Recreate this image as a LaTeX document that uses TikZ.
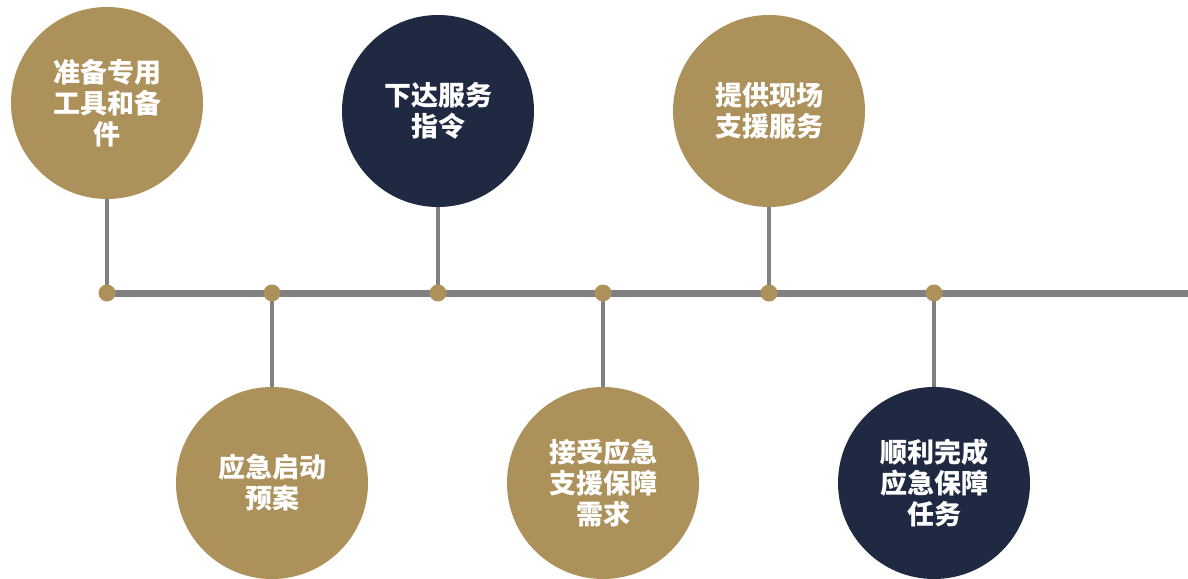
\documentclass[tikz,border=0pt]{standalone}
\usepackage{fontspec}
\newfontfamily\cjk{Noto Sans CJK SC}
\usetikzlibrary{backgrounds}
\definecolor{gold}{RGB}{173,145,91}
\definecolor{navy}{RGB}{31,41,66}
\definecolor{linegray}{RGB}{128,128,128}
\begin{document}
\begin{tikzpicture}[x=1pt,y=-1pt,
  bubble/.style={circle,minimum size=192pt,inner sep=0pt,text=white,align=center,
    font=\cjk\bfseries\fontsize{27}{31}\selectfont},
  goldbub/.style={bubble,fill=gold},
  navybub/.style={bubble,fill=navy},
  dot/.style={circle,fill=gold,minimum size=17pt,inner sep=0pt},
  axis/.style={draw=linegray,line width=7pt},
  stem/.style={draw=linegray,line width=4.5pt}]
\useasboundingbox (0,0) rectangle (1188,578);
% dots on the axis
\node[dot] (d1) at (107,293) {};
\node[dot] (d2) at (272,293) {};
\node[dot] (d3) at (438,293) {};
\node[dot] (d4) at (603,293) {};
\node[dot] (d5) at (769,293) {};
\node[dot] (d6) at (934,293) {};
\coordinate (axend) at (1188,293);
% circles
\node[goldbub] (c1) at (107,103) {准备专用\\工具和备\\件};
\node[goldbub] (c2) at (272,483) {应急启动\\预案};
\node[navybub] (c3) at (438,111) {下达服务\\指令};
\node[goldbub] (c4) at (603,483) {接受应急\\支援保障\\需求};
\node[goldbub] (c5) at (769,111) {提供现场\\支援服务};
\node[navybub] (c6) at (934,483) {顺利完成\\应急保障\\任务};
\begin{scope}[on background layer]
\draw[axis] (d1.center) -- (axend);
\draw[stem] (d1.center) -- (c1.south);
\draw[stem] (d2.center) -- (c2.north);
\draw[stem] (d3.center) -- (c3.south);
\draw[stem] (d4.center) -- (c4.north);
\draw[stem] (d5.center) -- (c5.south);
\draw[stem] (d6.center) -- (c6.north);
\end{scope}
\end{tikzpicture}
\end{document}
